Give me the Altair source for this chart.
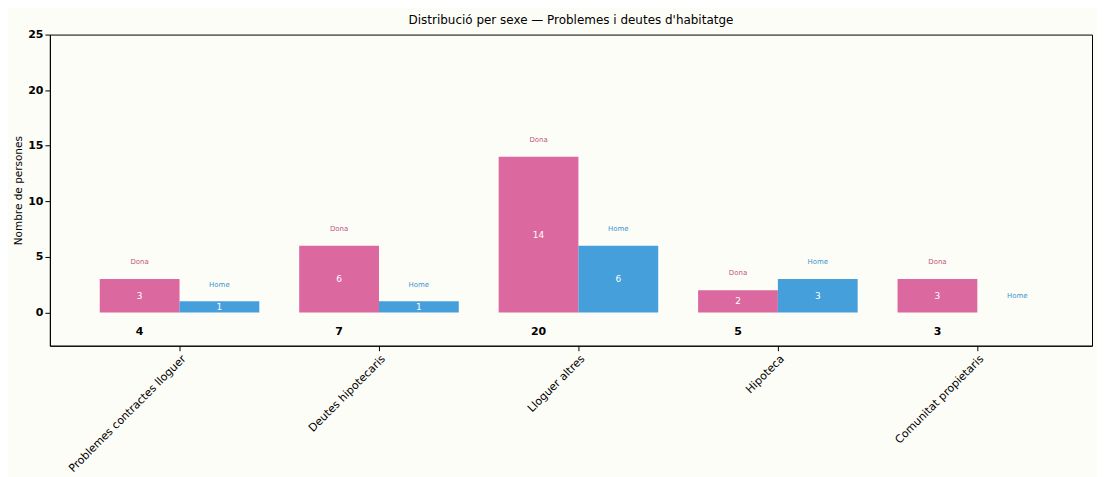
import altair as alt
import pandas as pd

categories = ["Problemes contractes lloguer", "Deutes hipotecaris", "Lloguer altres",
              "Hipoteca", "Comunitat propietaris"]
sexes = ["Dona", "Home"]
dona = [3, 6, 14, 2, 3]
home = [1, 1, 6, 3, 0]
totals = [4, 7, 20, 5, 3]
y_ticks = [0, 5, 10, 15, 20, 25]

colors = {"Dona": "#D9609A", "Home": "#3A9AD9"}
text_colors = {"Dona": "#C25585", "Home": "#3A95CF"}

rows = []
for i, cat in enumerate(categories):
    for s, vals, off in (("Dona", dona, -0.4), ("Home", home, 0.0)):
        v = vals[i]
        rows.append({
            "cat": cat, "sexe": s, "v": v,
            "x0": i + off, "x1": i + off + 0.4, "xc": i + off + 0.2,
            "mid": v / 2, "lab_y": v + 1.5,
            "vtxt": str(v) if v > 0 else "",
        })
df = pd.DataFrame(rows)
tot_df = pd.DataFrame({"x": [i - 0.2 for i in range(len(categories))], "t": totals,
                       "y": [-1.8] * len(totals)})

label_expr = "[" + ",".join("'" + c + "'" for c in categories) + "][datum.value]"

xscale = alt.Scale(domain=[-0.65, 4.575], nice=False, zero=False)
yscale = alt.Scale(domain=[-3, 25], nice=False, zero=False)

xaxis = alt.Axis(values=list(range(len(categories))), labelExpr=label_expr, labelAngle=-45,
                 labelAlign="right", labelBaseline="top", labelFontSize=11, labelColor="black",
                 tickColor="black", domainColor="black", grid=False, title=None,
                 labelFont="DejaVu Sans", labelPadding=2)
yaxis = alt.Axis(values=y_ticks, grid=False, title="Nombre de persones", titleFontSize=10.5,
                 titleFontWeight="normal", titleColor="black", labelFontSize=11,
                 labelFontWeight="bold", labelColor="black", tickColor="black",
                 domainColor="black", labelFont="DejaVu Sans", titleFont="DejaVu Sans",
                 titlePadding=4)

base = alt.Chart(df)

bars = base.mark_bar(opacity=0.95).encode(
    x=alt.X("x0:Q", scale=xscale, axis=xaxis),
    x2="x1:Q",
    y=alt.Y("v:Q", scale=yscale, axis=yaxis),
    y2=alt.datum(0),
    color=alt.Color("sexe:N", scale=alt.Scale(domain=sexes, range=[colors[s] for s in sexes]), legend=None),
)

vals = base.mark_text(color="white", fontSize=9, font="DejaVu Sans").encode(
    x=alt.X("xc:Q", scale=xscale), y=alt.Y("mid:Q", scale=yscale), text="vtxt:N")

labs = base.mark_text(fontSize=7, font="DejaVu Sans").encode(
    x=alt.X("xc:Q", scale=xscale), y=alt.Y("lab_y:Q", scale=yscale), text="sexe:N",
    color=alt.Color("sexe:N", scale=alt.Scale(domain=sexes, range=[text_colors[s] for s in sexes]), legend=None))

tots = alt.Chart(tot_df).mark_text(fontSize=11, fontWeight="bold", color="black", font="DejaVu Sans").encode(
    x=alt.X("x:Q", scale=xscale), y=alt.Y("y:Q", scale=yscale), text="t:Q")

chart = alt.layer(bars, vals, labs, tots).resolve_scale(color="independent").properties(
    width=1045, height=312, background="#FDFDF8",
    title=alt.TitleParams("Distribució per sexe — Problemes i deutes d'habitatge", fontSize=12,
                          fontWeight="normal", font="DejaVu Sans", color="black", offset=2),
).configure_view(stroke="black", strokeWidth=1)

chart.save("out.html", embed_options={"renderer": "svg", "actions": False})
